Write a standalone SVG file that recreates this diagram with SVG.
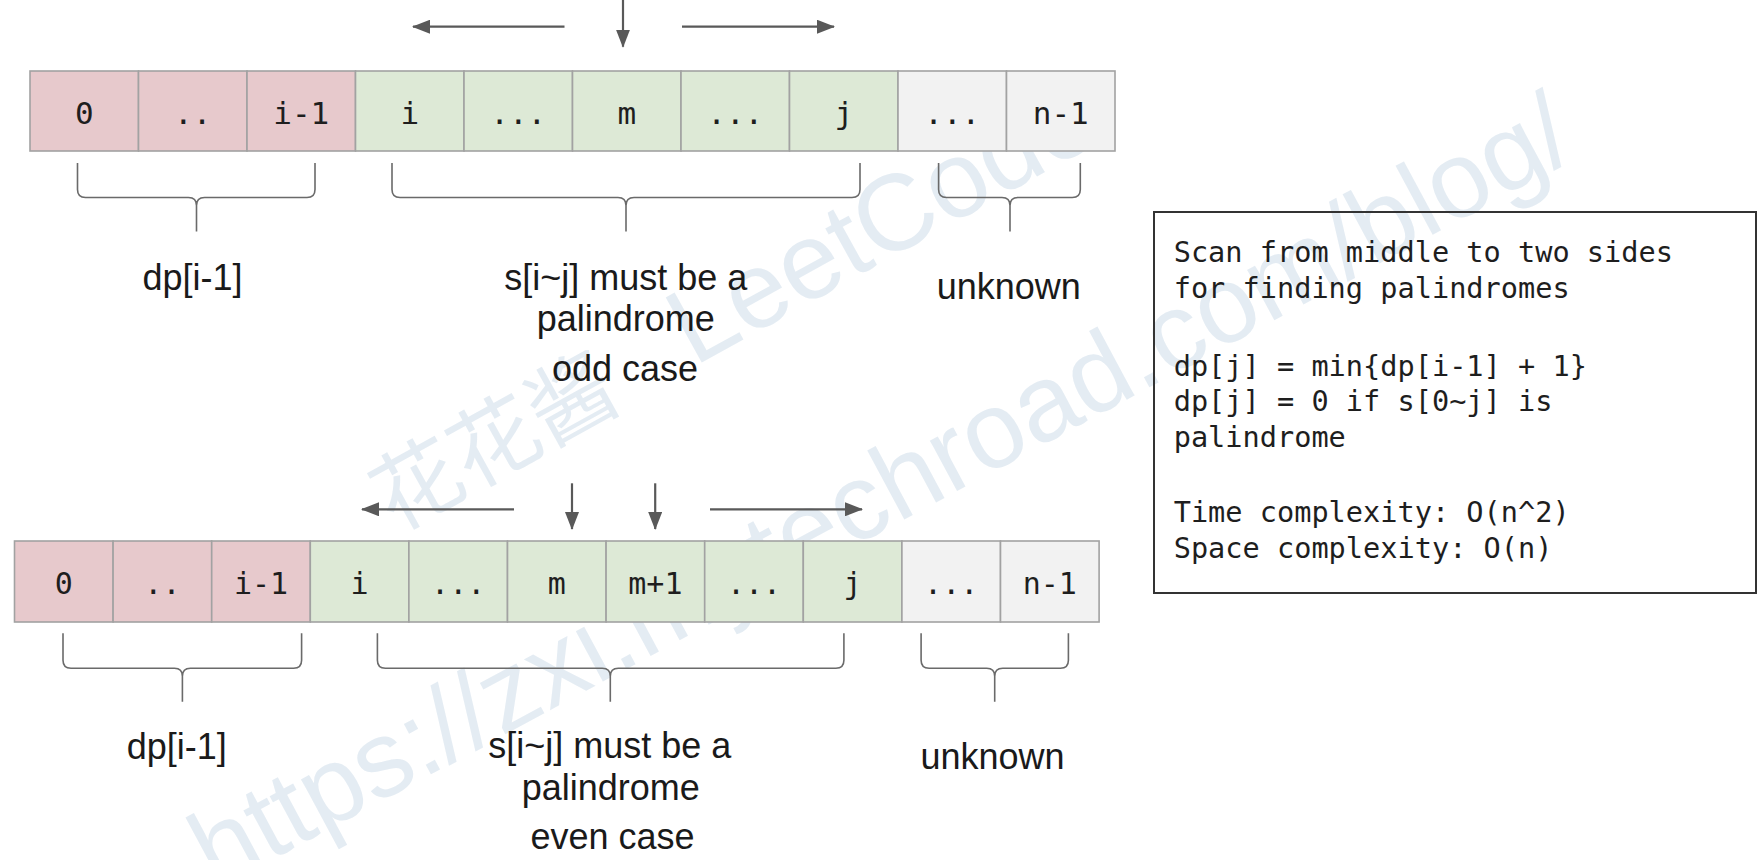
<svg xmlns="http://www.w3.org/2000/svg" width="1762" height="860" viewBox="0 0 1762 860">
<style>
.bg{fill:#ffffff}
.wm{font-family:"Liberation Sans","Noto Sans CJK SC",sans-serif;fill:#bccfe2;fill-opacity:0.4}
.pk{fill:#e7c9cc;stroke:#a2a2a2;stroke-width:1.6}
.gr{fill:#dde9d6;stroke:#a2a2a2;stroke-width:1.6}
.gy{fill:#f2f2f2;stroke:#a2a2a2;stroke-width:1.6}
.ct{font-family:"DejaVu Sans Mono","Liberation Mono",monospace;font-size:31px;fill:#1e1e1e;text-anchor:middle}
.cb{font-family:"DejaVu Sans Mono","Liberation Mono",monospace;font-size:30px;fill:#1e1e1e;text-anchor:middle}
.lb{font-family:"Liberation Sans",Arial,sans-serif;font-size:36px;fill:#1a1a1a;text-anchor:middle}
.br{fill:none;stroke:#6a6a6a;stroke-width:1.6}
.ar{fill:none;stroke:#595959;stroke-width:2.2}
.box{fill:none;stroke:#333333;stroke-width:2}
.mt{font-family:"DejaVu Sans Mono","Liberation Mono",monospace;font-size:28.6px;fill:#1e1e1e}
</style>
<defs>
<marker id="ah" viewBox="0 0 18 14" refX="17" refY="7" markerWidth="18" markerHeight="14" markerUnits="userSpaceOnUse" orient="auto">
<path d="M0,0 L18,7 L0,14 z" fill="#595959"/>
</marker>
</defs>
<rect class="bg" x="0" y="0" width="1762" height="860"/>
<g id="watermark">
<text class="wm" font-size="88" transform="translate(394,533) rotate(-29)">花花酱<tspan font-size="108" dx="79">LeetCode</tspan></text>
<text class="wm" font-size="108" transform="translate(216,890) rotate(-28.3)">https://zxi.mytechroad.com/blog/</text>
</g>
<g id="row-odd">
<rect class="pk" x="30" y="71" width="108.5" height="80"/>
<rect class="pk" x="138.5" y="71" width="108.5" height="80"/>
<rect class="pk" x="247" y="71" width="108.5" height="80"/>
<rect class="gr" x="355.5" y="71" width="108.5" height="80"/>
<rect class="gr" x="464" y="71" width="108.5" height="80"/>
<rect class="gr" x="572.5" y="71" width="108.5" height="80"/>
<rect class="gr" x="681" y="71" width="108.5" height="80"/>
<rect class="gr" x="789.5" y="71" width="108.5" height="80"/>
<rect class="gy" x="898" y="71" width="108.5" height="80"/>
<rect class="gy" x="1006.5" y="71" width="108.5" height="80"/>
<text class="ct" x="84.25" y="124">0</text>
<text class="ct" x="192.75" y="124">..</text>
<text class="ct" x="301.25" y="124">i-1</text>
<text class="ct" x="409.75" y="124">i</text>
<text class="ct" x="518.25" y="124">...</text>
<text class="ct" x="626.75" y="124">m</text>
<text class="ct" x="735.25" y="124">...</text>
<text class="ct" x="843.75" y="124">j</text>
<text class="ct" x="952.25" y="124">...</text>
<text class="ct" x="1060.75" y="124">n-1</text>
</g>
<g id="row-even">
<rect class="pk" x="14.5" y="541" width="98.6" height="81"/>
<rect class="pk" x="113.1" y="541" width="98.6" height="81"/>
<rect class="pk" x="211.7" y="541" width="98.6" height="81"/>
<rect class="gr" x="310.3" y="541" width="98.6" height="81"/>
<rect class="gr" x="408.9" y="541" width="98.6" height="81"/>
<rect class="gr" x="507.5" y="541" width="98.6" height="81"/>
<rect class="gr" x="606.1" y="541" width="98.6" height="81"/>
<rect class="gr" x="704.7" y="541" width="98.6" height="81"/>
<rect class="gr" x="803.3" y="541" width="98.6" height="81"/>
<rect class="gy" x="901.9" y="541" width="98.6" height="81"/>
<rect class="gy" x="1000.5" y="541" width="98.6" height="81"/>
<text class="cb" x="63.8" y="593.5">0</text>
<text class="cb" x="162.4" y="593.5">..</text>
<text class="cb" x="261" y="593.5">i-1</text>
<text class="cb" x="359.6" y="593.5">i</text>
<text class="cb" x="458.2" y="593.5">...</text>
<text class="cb" x="556.8" y="593.5">m</text>
<text class="cb" x="655.4" y="593.5">m+1</text>
<text class="cb" x="754" y="593.5">...</text>
<text class="cb" x="852.6" y="593.5">j</text>
<text class="cb" x="951.2" y="593.5">...</text>
<text class="cb" x="1049.8" y="593.5">n-1</text>
</g>
<g id="connectors">
<line class="ar" x1="564.5" y1="26.7" x2="413" y2="26.7" marker-end="url(#ah)"/>
<line class="ar" x1="623" y1="0" x2="623" y2="46.7" marker-end="url(#ah)"/>
<line class="ar" x1="682" y1="26.7" x2="834" y2="26.7" marker-end="url(#ah)"/>
<line class="ar" x1="514" y1="509.3" x2="362" y2="509.3" marker-end="url(#ah)"/>
<line class="ar" x1="572" y1="483.3" x2="572" y2="529" marker-end="url(#ah)"/>
<line class="ar" x1="655.2" y1="483.3" x2="655.2" y2="529" marker-end="url(#ah)"/>
<line class="ar" x1="710" y1="509.3" x2="862" y2="509.3" marker-end="url(#ah)"/>
</g>
<g id="braces">
<path class="br" d="M77.5,163 L77.5,189.5 Q77.5,197.5 85.5,197.5 L188.5,197.5 Q196.5,197.5 196.5,205.5 L196.5,231.5 M315,163 L315,189.5 Q315,197.5 307,197.5 L204.5,197.5 Q196.5,197.5 196.5,205.5"/>
<path class="br" d="M392,163 L392,189.5 Q392,197.5 400,197.5 L618,197.5 Q626,197.5 626,205.5 L626,231.5 M860,163 L860,189.5 Q860,197.5 852,197.5 L634,197.5 Q626,197.5 626,205.5"/>
<path class="br" d="M938.6,163 L938.6,189.5 Q938.6,197.5 946.6,197.5 L1002,197.5 Q1010,197.5 1010,205.5 L1010,231.5 M1080.3,163 L1080.3,189.5 Q1080.3,197.5 1072.3,197.5 L1018,197.5 Q1010,197.5 1010,205.5"/>
<path class="br" d="M63,633.3 L63,660.3 Q63,668.3 71,668.3 L174.4,668.3 Q182.4,668.3 182.4,676.3 L182.4,701.7 M301.6,633.3 L301.6,660.3 Q301.6,668.3 293.6,668.3 L190.4,668.3 Q182.4,668.3 182.4,676.3"/>
<path class="br" d="M377.4,633.3 L377.4,660.3 Q377.4,668.3 385.4,668.3 L602.3,668.3 Q610.3,668.3 610.3,676.3 L610.3,701.7 M843.9,633.3 L843.9,660.3 Q843.9,668.3 835.9,668.3 L618.3,668.3 Q610.3,668.3 610.3,676.3"/>
<path class="br" d="M921.1,633.3 L921.1,660.3 Q921.1,668.3 929.1,668.3 L986.7,668.3 Q994.7,668.3 994.7,676.3 L994.7,701.7 M1068.4,633.3 L1068.4,660.3 Q1068.4,668.3 1060.4,668.3 L1002.7,668.3 Q994.7,668.3 994.7,676.3"/>
</g>
<g id="labels-odd">
<text class="lb" x="192.5" y="289.5">dp[i-1]</text>
<text class="lb" x="625.8" y="290">s[i~j] must be a</text>
<text class="lb" x="625.8" y="331">palindrome</text>
<text class="lb" x="625" y="380.5">odd case</text>
<text class="lb" x="1008.8" y="298.5">unknown</text>
</g>
<g id="labels-even">
<text class="lb" x="176.7" y="758.5">dp[i-1]</text>
<text class="lb" x="609.8" y="758">s[i~j] must be a</text>
<text class="lb" x="610.8" y="800">palindrome</text>
<text class="lb" x="612.5" y="849">even case</text>
<text class="lb" x="992.6" y="769">unknown</text>
</g>
<g id="note">
<rect class="box" x="1154" y="212" width="602" height="381"/>
<text class="mt" x="1173.7" y="261.5">Scan from middle to two sides</text>
<text class="mt" x="1173.7" y="298">for finding palindromes</text>
<text class="mt" x="1173.7" y="375.5">dp[j] = min{dp[i-1] + 1}</text>
<text class="mt" x="1173.7" y="411">dp[j] = 0 if s[0~j] is</text>
<text class="mt" x="1173.7" y="447">palindrome</text>
<text class="mt" x="1173.7" y="521.5">Time complexity: O(n^2)</text>
<text class="mt" x="1173.7" y="558">Space complexity: O(n)</text>
</g>
</svg>
